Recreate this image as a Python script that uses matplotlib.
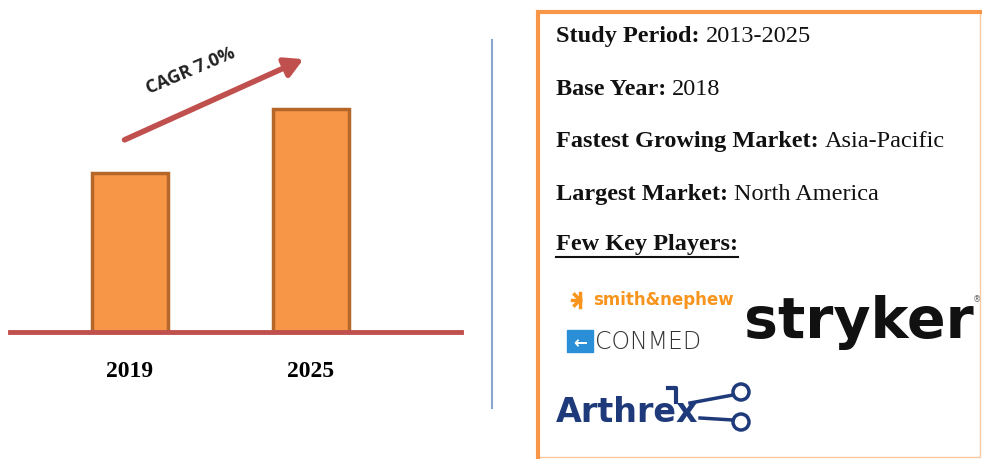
import matplotlib.pyplot as plt
from matplotlib.patches import Rectangle, Circle, FancyArrowPatch

# Data (bar heights, relative units)
years = ['2019', '2025']
market_size = [1.0, 1.4]
cagr_label = 'CAGR 7.0%'

info_labels = ['Study Period:', 'Base Year:', 'Fastest Growing Market:', 'Largest Market:']
info_values = ['2013-2025', '2018', 'Asia-Pacific', 'North America']
players_title = 'Few Key Players:'

bar_color = '#f79646'
bar_edge = '#b5672a'
red = '#c0504d'
orange = '#f79646'

fig = plt.figure(figsize=(9.82, 4.59), dpi=100)
W, H = 982, 459

# bar chart, placed by pixel
left, right, base, top = 10, 461, 332, 40
ax = fig.add_axes([left / W, (H - base) / H, (right - left) / W, (base - top) / H])
ax.bar([0, 1], market_size, width=0.42, color=bar_color, edgecolor=bar_edge, linewidth=2.5, zorder=2)
ax.axhline(0, color=red, linewidth=3.5, zorder=3, clip_on=False)
ax.set_xlim(-0.663, 1.831)
ax.set_ylim(0, 1.836)
ax.set_xticks([0, 1])
ax.set_xticklabels(years, fontsize=17, fontweight='bold', family='Liberation Serif')
ax.tick_params(axis='x', length=0, pad=21)
ax.set_yticks([])
for s in ax.spines.values():
    s.set_visible(False)

# overlay in pixel coordinates for the annotations and the info box
ov = fig.add_axes([0, 0, 1, 1])
ov.set_xlim(0, W)
ov.set_ylim(H, 0)
ov.axis('off')

arrow = FancyArrowPatch((122, 141), (306, 58), arrowstyle='-|>,head_length=9,head_width=5',
                        color=red, linewidth=4, mutation_scale=1.2)
ov.add_patch(arrow)
ov.text(191, 71, cagr_label, rotation=23, fontsize=13, fontweight='bold', color='#222222',
        ha='center', va='center', family='Open Sans')

# divider
ov.plot([492, 492], [40, 408], color='#8aa6d0', linewidth=1.5)

# info box: thick top and left, faint right and bottom
ov.plot([538, 538, 982], [459, 12, 12], color=orange, linewidth=3, solid_joinstyle='miter')
ov.plot([980, 980, 538], [12, 457, 457], color=orange, linewidth=1, alpha=0.5)

baselines = [42, 95, 147, 200]
for lab, val, yb in zip(info_labels, info_values, baselines):
    t = ov.text(556, yb, lab + ' ', fontsize=17.5, fontweight='bold', family='Liberation Serif',
                va='baseline', color='#111111')
    fig.canvas.draw()
    bb = t.get_window_extent()
    ov.annotate(val, xy=(bb.x1, H - yb), xycoords='figure pixels', fontsize=17.5,
                family='Liberation Serif', va='baseline', color='#111111')

t = ov.text(556, 250, players_title, fontsize=17.5, fontweight='bold', family='Liberation Serif',
            va='baseline', color='#111111')
fig.canvas.draw()
bb = t.get_window_extent()
ov.plot([556, bb.x1], [257, 257], color='#111111', linewidth=1.5)

# logos as text
# smith&nephew
for dx, dy in [(-9, 0), (-6, -6), (-6, 6), (0, -8), (0, 8)]:
    ov.plot([580, 580 + dx * 0.9], [300, 300 + dy * 0.9], color='#f7941d', linewidth=2.5)
ov.text(593, 300, 'smith&nephew', fontsize=12, fontweight='bold', color='#f7941d',
        family='DejaVu Sans', va='center')

# ConMed
ov.add_patch(Rectangle((567, 330), 26, 22, color='#2a8fd6'))
ov.text(580, 343, '\u2190', color='white', fontsize=12, ha='center', va='center', fontweight='bold')
ov.text(595, 342, 'CONMED', fontsize=17, color='#333333', family='DejaVu Sans',
        fontweight='light', va='center')

# stryker
ov.text(744, 322, 'stryker', fontsize=41, fontweight='bold', color='#111111',
        family='DejaVu Sans', va='center')
ov.text(977, 300, '\u00ae', fontsize=6, color='#666666', ha='center', va='center')

# Arthrex
ov.text(556, 413, 'Arthrex', fontsize=24, fontweight='bold', color='#1f3a7a',
        family='DejaVu Sans', va='center')
ov.add_patch(Circle((741, 392), 8, fill=False, edgecolor='#1f3a7a', linewidth=2.5))
ov.add_patch(Circle((741, 422), 8, fill=False, edgecolor='#1f3a7a', linewidth=2.5))
ov.plot([690, 733], [403, 395], color='#1f3a7a', linewidth=2.5)
ov.plot([700, 733], [418, 420], color='#1f3a7a', linewidth=2.5)
ov.plot([668, 676, 676], [388, 388, 402], color='#1f3a7a', linewidth=3)

fig.savefig('out.png', dpi=100)
